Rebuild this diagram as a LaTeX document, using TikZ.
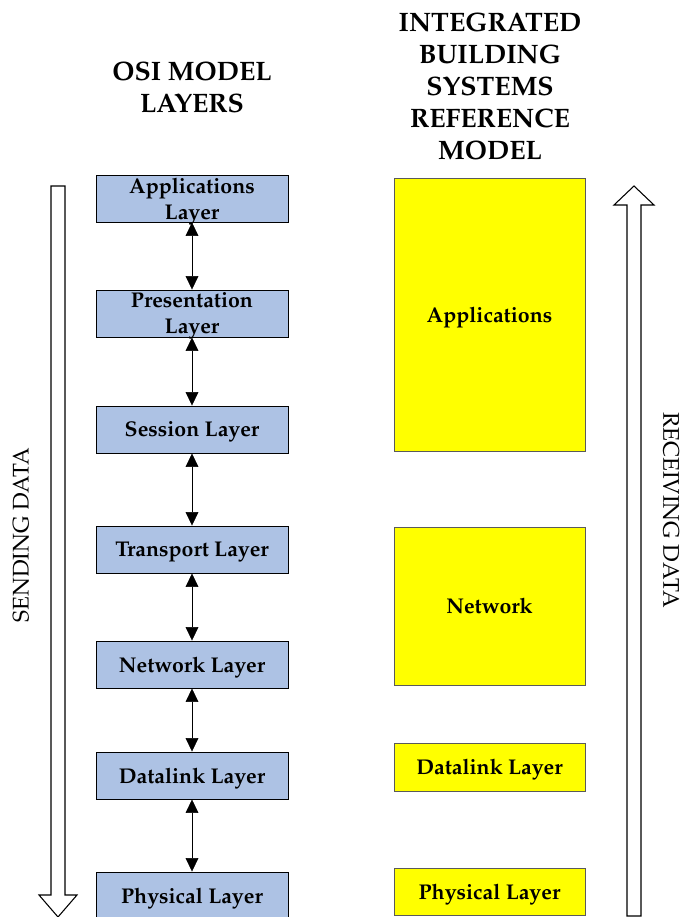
\documentclass[tikz,border=0pt]{standalone}
\usepackage[T1]{fontenc}
\usepackage{mathpazo}
\usetikzlibrary{arrows.meta}

\definecolor{layerblue}{HTML}{ADC2E4}
\definecolor{ibsyellow}{HTML}{FFFF00}
\definecolor{ibsborder}{HTML}{5A5A5A}

\begin{document}
\begin{tikzpicture}[x=0.75pt, y=-0.75pt,
    layer/.style = {rectangle, draw=black, line width=0.7pt, fill=layerblue,
                    minimum width=144pt, minimum height=35.25pt, inner sep=0pt,
                    text depth=0pt,
                    font=\fontsize{16}{19.5}\selectfont\bfseries},
    ibs/.style = {rectangle, draw=ibsborder, line width=0.7pt, fill=ibsyellow,
                  minimum width=143.25pt, inner sep=0pt, text depth=0pt,
                  font=\fontsize{16}{19.5}\selectfont\bfseries},
    heading/.style = {align=center, font=\fontsize{20}{24}\selectfont\bfseries},
    flow/.style = {font=\fontsize{17}{20}\selectfont},
    bigarrow/.style = {draw=black, line width=0.8pt, fill=white},
    >={Triangle[width=9.5pt, length=10pt]}]
  \useasboundingbox (0, 0) rectangle (683, 917);

  % Headings.
  \node at (192, 87) [heading, name=OsiTitle] {OSI MODEL\\LAYERS};
  \node at (490, 86) [heading, name=IbsTitle] {INTEGRATED\\BUILDING\\SYSTEMS\\REFERENCE\\MODEL};

  % OSI layers.
  \node at (192, 198.5) [layer, align=center, name=Applications] {Applications\\Layer};
  \node at (192, 313.5) [layer, align=center, name=Presentation] {Presentation\\Layer};
  \node at (192, 429.5) [layer, name=Session] {Session Layer};
  \node at (192, 549.5) [layer, name=Transport] {Transport Layer};
  \node at (192, 664.5) [layer, name=Network] {Network Layer};
  \node at (192, 775.5) [layer, name=Datalink] {Datalink Layer};
  \node at (192, 895.5) [layer, name=Physical] {Physical Layer};

  % Integrated building systems model.
  \node at (489.5, 314.5) [ibs, minimum height=204.75pt, name=IbsApplications] {Applications};
  \node at (489.5, 606) [ibs, minimum height=118.5pt, name=IbsNetwork] {Network};
  \node at (489.5, 767) [ibs, minimum height=36pt, name=IbsDatalink] {Datalink Layer};
  \node at (489.5, 891.5) [ibs, minimum height=35.25pt, name=IbsPhysical] {Physical Layer};

  % Links between layers.
  \draw [<->] (Applications) to (Presentation);
  \draw [<->] (Presentation) to (Session);
  \draw [<->] (Session) to (Transport);
  \draw [<->] (Transport) to (Network);
  \draw [<->] (Network) to (Datalink);
  \draw [<->] (Datalink) to (Physical);

  % Sending and receiving arrows.
  \draw [bigarrow] (51, 186) -- (65, 186) -- (65, 895) -- (77, 895)
                   -- (58, 917) -- (39, 895) -- (51, 895) -- cycle;
  \draw [bigarrow] (627, 916) -- (641, 916) -- (641, 205) -- (654, 205)
                   -- (634, 186) -- (614, 205) -- (627, 205) -- cycle;
  \node at (21, 535) [flow, rotate=90, name=Sending] {SENDING DATA};
  \node at (671, 510) [flow, rotate=-90, name=Receiving] {RECEIVING DATA};
\end{tikzpicture}
\end{document}
